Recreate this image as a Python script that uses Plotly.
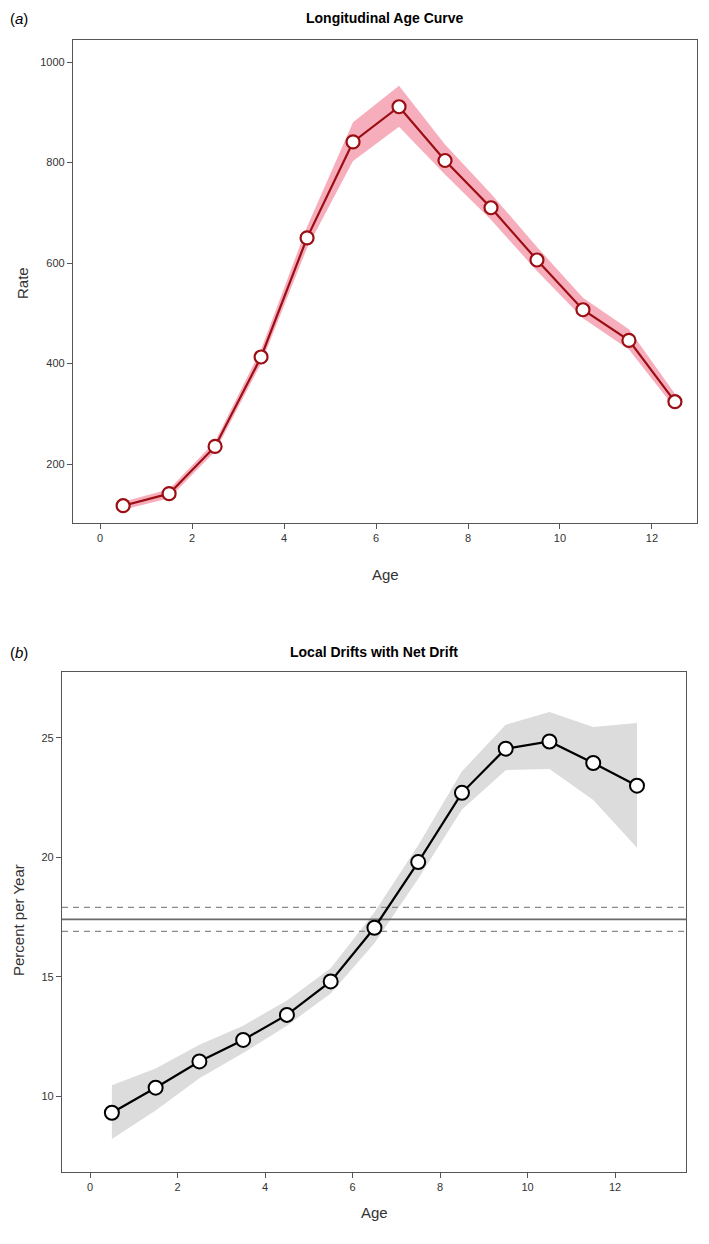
import plotly.graph_objects as go

# ---- Panel (a): Longitudinal Age Curve ----
age = [0.5, 1.5, 2.5, 3.5, 4.5, 5.5, 6.5, 7.5, 8.5, 9.5, 10.5, 11.5, 12.5]
rate = [117, 141, 235, 413, 650, 841, 911, 804, 710, 606, 507, 446, 324]
rate_lo = [109, 132, 225, 400, 630, 803, 871, 776, 686, 584, 490, 428, 311]
rate_hi = [125, 150, 245, 428, 672, 880, 953, 836, 738, 632, 531, 468, 340]

# ---- Panel (b): Local Drifts with Net Drift ----
drift = [9.3, 10.35, 11.45, 12.35, 13.4, 14.8, 17.05, 19.8, 22.7, 24.55, 24.85, 23.95, 23.0]
drift_lo = [8.2, 9.4, 10.75, 11.8, 12.95, 14.3, 16.4, 19.1, 22.0, 23.65, 23.7, 22.4, 20.4]
drift_hi = [10.45, 11.15, 12.15, 12.95, 14.0, 15.35, 17.7, 20.5, 23.6, 25.55, 26.08, 25.46, 25.62]
net_drift = 17.4
net_lo = 16.9
net_hi = 17.9

xticks = [0, 2, 4, 6, 8, 10, 12]
yticks_a = [200, 400, 600, 800, 1000]
yticks_b = [10, 15, 20, 25]

FONT = "Liberation Sans"
fig = go.Figure()

# Panel a band
fig.add_trace(go.Scatter(x=age + age[::-1], y=rate_hi + rate_lo[::-1], fill="toself",
                         fillcolor="rgba(244,160,178,0.85)", line=dict(width=0),
                         hoverinfo="skip", showlegend=False, xaxis="x", yaxis="y"))
fig.add_trace(go.Scatter(x=age, y=rate, mode="lines+markers",
                         line=dict(color="#9b0f14", width=2.2),
                         marker=dict(size=13, color="white", line=dict(color="#9b0f14", width=2.2)),
                         showlegend=False, xaxis="x", yaxis="y"))

# Panel b band
fig.add_trace(go.Scatter(x=age + age[::-1], y=drift_hi + drift_lo[::-1], fill="toself",
                         fillcolor="#dcdcdc", line=dict(width=0),
                         hoverinfo="skip", showlegend=False, xaxis="x2", yaxis="y2"))
xb = [-0.64, 13.62]
fig.add_trace(go.Scatter(x=xb, y=[net_drift, net_drift], mode="lines",
                         line=dict(color="#6a6a6a", width=1.8), showlegend=False,
                         xaxis="x2", yaxis="y2"))
for v in (net_lo, net_hi):
    fig.add_trace(go.Scatter(x=xb, y=[v, v], mode="lines",
                             line=dict(color="#8a8a8a", width=1.3, dash="6px,5px"),
                             showlegend=False, xaxis="x2", yaxis="y2"))
fig.add_trace(go.Scatter(x=age, y=drift, mode="lines+markers",
                         line=dict(color="black", width=2.2),
                         marker=dict(size=14, color="white", line=dict(color="black", width=2)),
                         showlegend=False, xaxis="x2", yaxis="y2"))

# page body has an 8px margin: figure occupies 8..701 x 8..1236
OFF = 8.0
W = 693.0
H = 1228.0


def px(x):
    return (x - OFF) / W


def py(y):
    return 1 - (y - OFF) / H


axcommon = dict(showline=True, mirror=True, linecolor="#555555", linewidth=1.3,
                ticks="outside", ticklen=5, tickcolor="#555555", showgrid=False,
                zeroline=False, tickfont=dict(family=FONT, size=11, color="#333333"))

fig.update_layout(
    width=int(W), height=int(H), margin=dict(l=0, r=0, t=0, b=0),
    paper_bgcolor="white", plot_bgcolor="white",
    xaxis=dict(domain=[px(73), px(697)], range=[-0.59, 12.98], tickvals=xticks,
               anchor="y", **axcommon),
    yaxis=dict(domain=[py(523), py(40)], range=[82.6, 1043.8], tickvals=yticks_a,
               anchor="x", **axcommon),
    xaxis2=dict(domain=[px(62), px(686)], range=xb, tickvals=xticks,
                anchor="y2", **axcommon),
    yaxis2=dict(domain=[py(1172), py(672)], range=[6.82, 27.76], tickvals=yticks_b,
                anchor="x2", **axcommon),
    showlegend=False,
)

ann = [
    dict(text="(<i>a</i>)", x=px(8), y=py(18), xanchor="left", yanchor="middle",
         font=dict(family=FONT, size=15, color="black")),
    dict(text="<b>Longitudinal Age Curve</b>", x=px(385), y=py(18), xanchor="center",
         yanchor="middle", font=dict(family=FONT, size=14, color="black")),
    dict(text="Age", x=px(385), y=py(574), xanchor="center", yanchor="middle",
         font=dict(family=FONT, size=15, color="#333333")),
    dict(text="Rate", x=px(22), y=py(283), xanchor="center", yanchor="middle",
         textangle=-90, font=dict(family=FONT, size=15, color="#333333")),
    dict(text="(<i>b</i>)", x=px(8), y=py(652), xanchor="left", yanchor="middle",
         font=dict(family=FONT, size=15, color="black")),
    dict(text="<b>Local Drifts with Net Drift</b>", x=px(374), y=py(652), xanchor="center",
         yanchor="middle", font=dict(family=FONT, size=14, color="black")),
    dict(text="Age", x=px(374), y=py(1212), xanchor="center", yanchor="middle",
         font=dict(family=FONT, size=15, color="#333333")),
    dict(text="Percent per Year", x=px(18), y=py(920), xanchor="center", yanchor="middle",
         textangle=-90, font=dict(family=FONT, size=15, color="#333333")),
]
for a in ann:
    a.update(xref="paper", yref="paper", showarrow=False)
fig.update_layout(annotations=ann)

fig.write_html("out.html")
